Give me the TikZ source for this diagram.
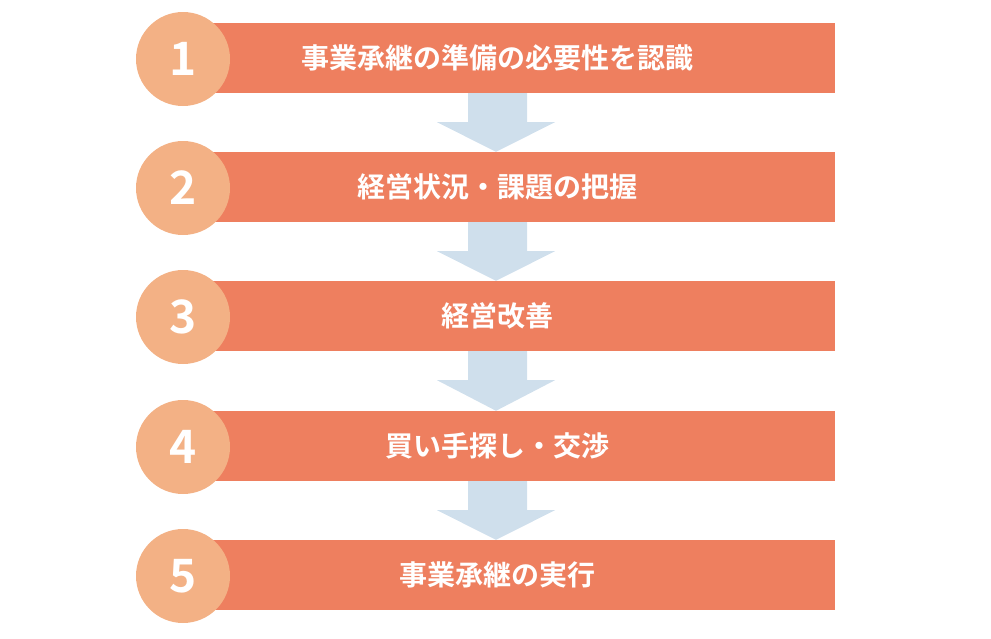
\documentclass[tikz,border=0pt]{standalone}
\usepackage{fontspec}
\setmainfont{Noto Sans CJK JP Bold}
\usetikzlibrary{calc}

\begin{document}
\begin{tikzpicture}[x=1pt,y=-1pt,
bar/.style={rectangle, minimum width=630, minimum height=70, inner sep=0, fill=barcol},
num/.style={circle, minimum size=94, inner sep=0, fill=circcol, text=white, font=\fontsize{46}{46}\selectfont},
label/.style={text=white, font=\fontsize{28}{28}\selectfont},
]
\definecolor{barcol}{HTML}{EE7F5F}
\definecolor{circcol}{HTML}{F3B185}
\definecolor{arrcol}{HTML}{CFDFEC}

\useasboundingbox (0,0) rectangle (991,638);

\foreach \i/\y/\t in {1/58/事業承継の準備の必要性を認識, 2/187/経営状況・課題の把握, 3/316/経営改善, 4/446/買い手探し・交渉, 5/575/事業承継の実行}{
  \node (bar\i) [bar] at (520,\y) {};
  \node (txt\i) [label] at (497,\y) {\t};
  \node (num\i) [num] at (183,\y+1) {\i};
}

\foreach \i/\j in {1/2, 2/3, 3/4, 4/5}{
  \fill[arrcol] ($(bar\i.south)+(-52,0)$) -- ($(bar\i.south)+(7,0)$) -- ($(bar\i.south)+(7,29)$)
    -- ($(bar\i.south)+(35,29)$) -- ($(bar\j.north)+(-24,0)$) -- ($(bar\i.south)+(-83,29)$)
    -- ($(bar\i.south)+(-52,29)$) -- cycle;
}

\end{tikzpicture}
\end{document}
